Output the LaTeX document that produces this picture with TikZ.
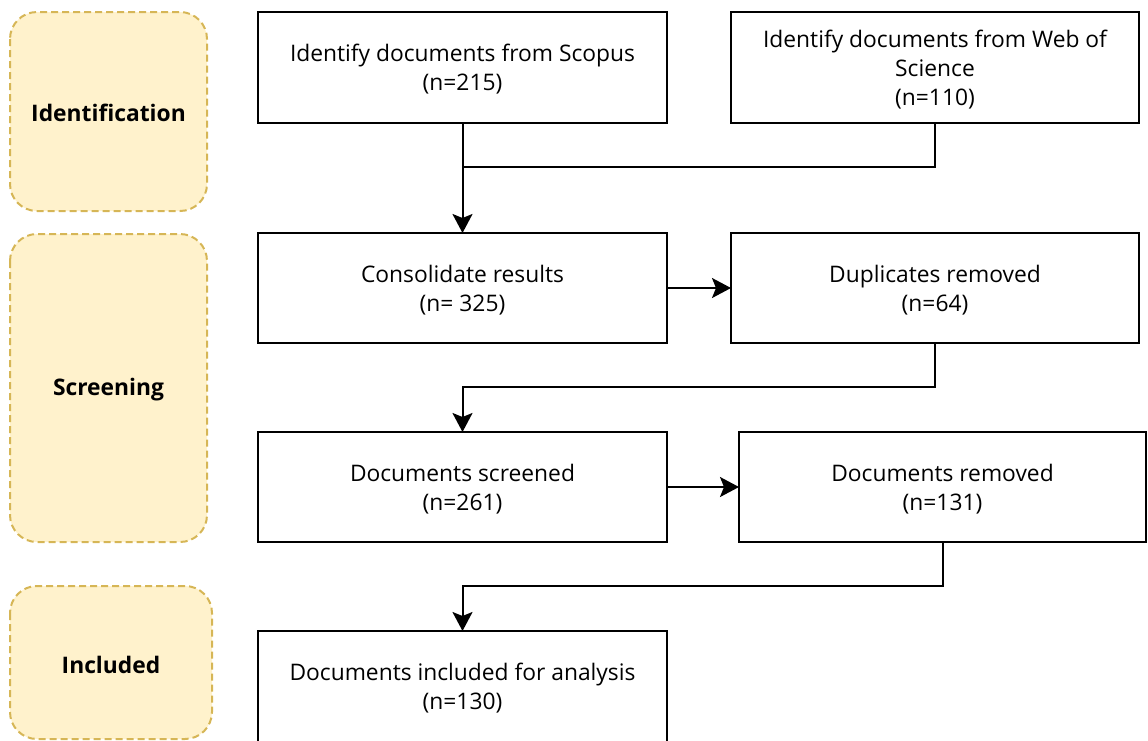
\documentclass[tikz,border=0pt]{standalone}
\usepackage{fontspec}
\setmainfont{Open Sans}
\usetikzlibrary{arrows.meta}
\definecolor{phasefill}{HTML}{FFF2CC}
\definecolor{phaseline}{HTML}{D6B656}

\begin{document}
\begin{tikzpicture}[x=1pt,y=-1pt,line width=2pt,>={Stealth[length=19pt,width=20pt,inset=4pt]},
  stage/.style={draw,fill=white,outer sep=0pt,minimum width=409pt,minimum height=111pt,
    align=center,font=\fontsize{22.8}{29}\selectfont,text depth=-3pt},
  phase/.style={draw=phaseline,fill=phasefill,dash pattern=on 7pt off 4pt,rounded corners=27pt},
  plabel/.style={font=\fontsize{22.8}{29}\selectfont\bfseries}]
  \useasboundingbox (0,0) rectangle (1148,740);
  % fases: cajas redondeadas discontinuas
  \draw[phase] (10,12) rectangle (207,211);
  \draw[phase] (10,234) rectangle (207,542);
  \draw[phase] (10,586) rectangle (212,739);
  \node[plabel] (lident) at (108.5,113){Identification};
  \node[plabel] (lscreen) at (108.5,390){Screening};
  \node[plabel] (lincl) at (111,665){Included};
  % etapas del proceso
  \node[stage] (scopus) at (462.5,67.5){Identify documents from Scopus\\(n=215)};
  \node[stage,minimum width=408pt] (wos) at (935,67.5){Identify documents from Web of\\Science\\(n=110)};
  \node[stage,minimum height=110pt] (cons) at (462.5,288){Consolidate results\\(n= 325)};
  \node[stage,minimum width=408pt,minimum height=110pt] (dup) at (935,288){Duplicates removed\\(n=64)};
  \node[stage,minimum height=110pt] (scr) at (462.5,487){Documents screened\\(n=261)};
  \node[stage,minimum width=407pt,minimum height=110pt] (rem) at (942.5,487){Documents removed\\(n=131)};
  \node[stage] (inc) at (462.5,686.5){Documents included for analysis\\(n=130)};
  % conectores
  \coordinate (join) at (462.5,167);
  \draw[->] (scopus) -- (cons);
  \draw (wos.south) |- (join);
  \draw[->] (cons) -- (dup);
  \draw[->] (dup.south) -- ++(0,44) -| (scr.north);
  \draw[->] (scr) -- (rem);
  \draw[->] (rem.south) -- ++(0,44) -| (inc.north);
\end{tikzpicture}
\end{document}
